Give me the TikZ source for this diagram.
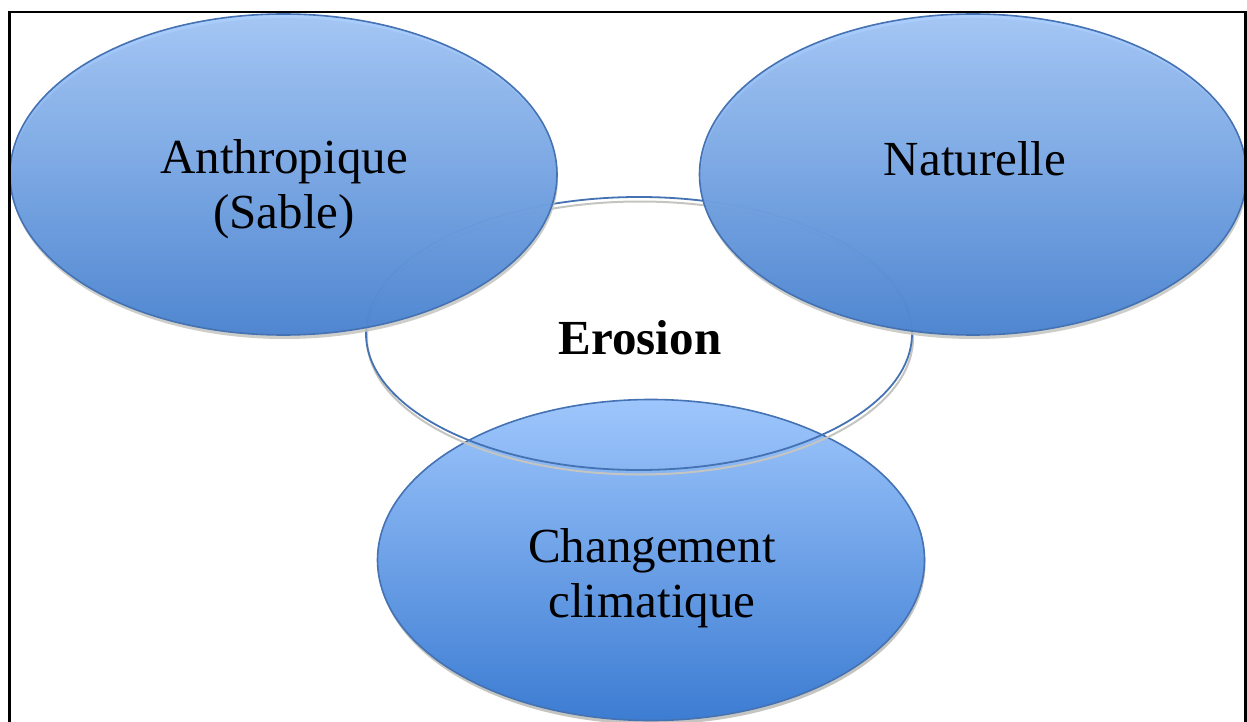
\documentclass[tikz,border=0pt]{standalone}
\usepackage{fontspec}
\setmainfont{Liberation Serif}
\usetikzlibrary{shapes.geometric}
\definecolor{blueTop}{RGB}{158,198,252}
\definecolor{blueBot}{RGB}{60,124,210}
\definecolor{blueEdge}{RGB}{68,114,178}
\definecolor{rimShadow}{RGB}{196,196,192}
\begin{document}
\begin{tikzpicture}[x=1pt,y=-1pt,
  bubble/.style={ellipse, inner sep=0pt, draw=blueEdge, line width=1.6pt,
    top color=blueTop, bottom color=blueBot,
    minimum width=547pt, minimum height=321pt},
  rim/.style={ellipse, inner sep=0pt, fill=rimShadow,
    minimum width=547pt, minimum height=321pt},
  core/.style={ellipse, inner sep=0pt, draw=blueEdge, line width=1.8pt,
    minimum width=546pt, minimum height=273pt},
  coreRim/.style={ellipse, inner sep=0pt, draw=rimShadow, line width=2pt,
    minimum width=546pt, minimum height=273pt},
  label/.style={font=\fontsize{49}{55}\selectfont, align=center, inner sep=0pt},
]
\useasboundingbox (0,0) rectangle (1247,722);
\begin{scope}
\clip (10,12) rectangle (1246,722);
% lower bubble
\node[rim] (climRim) at (652,564) {};
\node[bubble] (clim) at (651,560) {};
% central ring
\node[coreRim] (coreShadow) at (640,338) {};
\node[core] (erosion) at (639,333.5) {};
% upper bubbles, slightly see-through
\node[rim, fill opacity=0.85] (anthRim) at (284.5,178.5) {};
\node[bubble, fill opacity=0.86] (anth) at (283.5,174.5) {};
\node[rim, fill opacity=0.85] (natRim) at (974,178.5) {};
\node[bubble, fill opacity=0.86] (nat) at (973,174.5) {};
\end{scope}
% texts
\node[label] (anthText) at (284,189) {Anthropique\\(Sable)};
\node[label, anchor=base] (natText) at (975,176) {Naturelle};
\node[label, anchor=base, font=\fontsize{49}{55}\selectfont\bfseries] (eroText) at (640,354) {Erosion};
\node[label] (climText) at (652,578) {Changement\\climatique};
% frame
\draw[line width=2.6pt] (9.5,740) -- (9.5,12) -- (1245.5,12) -- (1245.5,740);
\end{tikzpicture}
\end{document}
